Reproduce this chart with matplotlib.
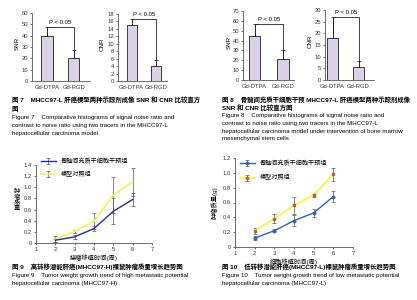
## Tracer comparison histograms and tumour growth curves (page scan recreation)
import matplotlib
matplotlib.use('Agg')
import matplotlib.pyplot as plt
import numpy as np

plt.rcParams['font.family'] = ['Liberation Sans', 'Noto Sans CJK SC']
plt.rcParams['axes.unicode_minus'] = False

W, H = 417, 300

## Data
tracers = ['Gd-DTPA', 'Gd-RGD']
snr7 = [40, 20]
snr7_err = [8, 7]
cnr7 = [15, 4]
cnr7_err = [1.7, 1.7]
snr8 = [45, 21]
snr8_err = [12, 9]
cnr8 = [18, 5.5]
cnr8_err = [9, 2.6]

weeks = [2, 3, 4, 5, 6]
# Figure 9 (MHCC97-H)
h_treat = [0.05, 0.11, 0.26, 0.57, 0.78]
h_treat_err = [0.03, 0.04, 0.05, 0.23, 0.11]
h_ctrl = [0.07, 0.21, 0.39, 0.86, 1.10]
h_ctrl_err = [0.05, 0.03, 0.14, 0.33, 0.25]
# Figure 10 (MHCC97-L)
l_treat = [0.12, 0.22, 0.355, 0.46, 0.68]
l_treat_err = [0.03, 0.02, 0.07, 0.05, 0.07]
l_ctrl = [0.22, 0.38, 0.56, 0.70, 0.98]
l_ctrl_err = [0.04, 0.06, 0.11, 0.02, 0.09]

legend_labels = ['骨髓间充质干细胞干预组', '模型对照组']

fig = plt.figure(figsize=(W / 100, H / 100), dpi=100)
fig.patch.set_facecolor('white')


def add_ax(l, t, r, b):
    return fig.add_axes([l / W, 1 - b / H, (r - l) / W, (b - t) / H])


def ftext(x, y, s, **kw):
    fig.text(x / W, 1 - y / H, s, va='center', **kw)


def style(ax, fs=4.2):
    for s in ['top', 'right']:
        ax.spines[s].set_visible(False)
    for s in ['left', 'bottom']:
        ax.spines[s].set_color('#555555')
        ax.spines[s].set_linewidth(0.6)
    ax.tick_params(labelsize=fs, length=1.5, width=0.5, pad=1.2, colors='#333333')


bar_fc = '#d9d1e8'
bar_ec = '#3a3a3a'


def bar_panel(ax, vals, errs, ylim, step, xlim, ylabel, lab_x):
    x = np.arange(len(vals))
    ax.bar(x, vals, width=0.42, color=bar_fc, edgecolor=bar_ec, linewidth=0.7)
    top = vals[0] + errs[0]
    # error bars (upper only)
    ax.errorbar(x, vals, yerr=[[0, 0], errs], fmt='none', ecolor='#333333',
                elinewidth=0.6, capsize=1.5, capthick=0.6)
    # significance bracket
    ax.plot([x[0], x[0], x[1], x[1]], [vals[0], top, top, vals[1]],
            color='#222222', lw=0.6)
    ax.text(0.5, top + (ylim[1] - ylim[0]) * 0.06, 'P < 0.05', ha='center',
            va='center', fontsize=4.3)
    ax.set_xlim(*xlim)
    ax.set_ylim(*ylim)
    ax.set_yticks(np.arange(ylim[0], ylim[1] + step / 2, step))
    ax.set_xticks(x)
    ax.set_xticklabels(tracers)
    style(ax)
    ax.tick_params(axis='x', length=0, pad=3)
    ax.set_ylabel(ylabel, fontsize=4.5)
    ax.yaxis.set_label_coords(lab_x, 0.55)


# Figure 7
ax = add_ax(32, 13, 90, 81)
bar_panel(ax, snr7, snr7_err, (0, 60), 10, (-0.55, 1.6), 'SNR', -0.22)
ax = add_ax(118, 14, 167, 81)
bar_panel(ax, cnr7, cnr7_err, (0, 18), 2, (-0.56, 1.45), 'CNR', -0.28)
# Figure 8
ax = add_ax(243, 11, 294, 80)
bar_panel(ax, snr8, snr8_err, (0, 70), 10, (-0.41, 1.4), 'SNR', -0.22)
ax = add_ax(325, 10, 374, 80)
bar_panel(ax, cnr8, cnr8_err, (0, 30), 5, (-0.3, 1.6), 'CNR', -0.25)

# Figure 9
ax = add_ax(36, 165, 152, 243)
ax.errorbar(weeks, h_ctrl, yerr=h_ctrl_err, color='#f2f25a', lw=1.2,
            ecolor='#555555', elinewidth=0.5, capsize=1.3, capthick=0.5,
            label=legend_labels[1])
ax.errorbar(weeks, h_treat, yerr=h_treat_err, color='#2a2a95', lw=1.0,
            ecolor='#555555', elinewidth=0.5, capsize=1.3, capthick=0.5,
            label=legend_labels[0])
ax.set_xlim(1, 7)
ax.set_ylim(0, 1.4)
ax.set_xticks(range(1, 8))
ax.set_yticks(np.arange(0, 1.41, 0.2))
ax.set_yticklabels(['0'] + ['%.1f' % v for v in np.arange(0.2, 1.41, 0.2)])
style(ax)
ax.set_xlabel('接瘤移植时间(周)', fontsize=4.5, labelpad=2)
h, l = ax.get_legend_handles_labels()
ax.legend(h[::-1], l[::-1], loc='upper left', bbox_to_anchor=(41 / W, 1 - 158 / H),
          bbox_transform=fig.transFigure, frameon=False, fontsize=4.4,
          handlelength=2.4, labelspacing=1.2, borderaxespad=0, borderpad=0)
ftext(17, 200, '肿\n瘤\n质\n量', fontsize=4.5, ha='center', linespacing=1.0)

# Figure 10
ax = add_ax(235, 158, 353, 247)
ax.errorbar(weeks, l_treat, yerr=l_treat_err, color='#3464a8', lw=1.0,
            marker='D', ms=1.6, mfc='#3464a8', mec='#3464a8',
            ecolor='#555555', elinewidth=0.5, capsize=1.3, capthick=0.5,
            label=legend_labels[0])
ax.errorbar(weeks, l_ctrl, yerr=l_ctrl_err, color='#f7f44a', lw=1.3,
            marker='s', ms=1.8, mfc='#b0603c', mec='#b0603c',
            ecolor='#555555', elinewidth=0.5, capsize=1.3, capthick=0.5,
            label=legend_labels[1])
ax.set_xlim(1, 7)
ax.set_ylim(0, 1.2)
ax.set_xticks(range(1, 8))
ax.set_yticks(np.arange(0, 1.21, 0.2))
ax.set_yticklabels(['0'] + ['%.1f' % v for v in np.arange(0.2, 1.21, 0.2)])
style(ax)
ax.set_xlabel('细胞移植时间(周)', fontsize=4.5, labelpad=2)
ax.set_ylabel('肿瘤质量(g)', fontsize=4.5)
ax.yaxis.set_label_coords(-0.15, 0.5)
ax.legend(loc='upper left', bbox_to_anchor=(240 / W, 1 - 160 / H),
          bbox_transform=fig.transFigure, frameon=False, fontsize=4.4,
          handlelength=2.4, labelspacing=1.4, borderaxespad=0, borderpad=0)

## Captions
cn = dict(fontsize=4.6, fontweight='bold', ha='left')
en = dict(fontsize=4.4, ha='left')
ftext(12, 100, '图 7    MHCC97-L 肝癌模型两种示踪剂成像 SNR 和 CNR 比较直方', **cn)
ftext(12, 109, '图', **cn)
ftext(12, 118, 'Figure 7    Comparative histograms of signal noise ratio and', **en)
ftext(12, 126, 'contrast to noise ratio using two tracers in the MHCC97-L', **en)
ftext(12, 134, 'hepatocellular carcinoma model', **en)

ftext(222, 100, '图 8    骨髓间充质干细胞干预 MHCC97-L 肝癌模型两种示踪剂成像', **cn)
ftext(222, 108, 'SNR 和 CNR 比较直方图', **cn)
ftext(222, 116, 'Figure 8    Comparative histograms of signal noise ratio and', **en)
ftext(222, 123.5, 'contrast to noise ratio using two tracers in the MHCC97-L', **en)
ftext(222, 131, 'hepatocellular carcinoma model under intervention of bone marrow', **en)
ftext(222, 138.5, 'mesenchymal stem cells', **en)

ftext(12, 267, '图 9    高转移潜能肝癌(MHCC97-H)裸鼠肿瘤质量增长趋势图', **cn)
ftext(12, 275, 'Figure 9    Tumor weight growth trend of high metastatic potential', **en)
ftext(12, 283, 'hepatocellular carcinoma (MHCC97-H)', **en)

ftext(222, 267, '图 10    低转移潜能肝癌(MHCC97-L)裸鼠肿瘤质量增长趋势图', **cn)
ftext(222, 275, 'Figure 10    Tumor weight growth trend of low metastatic potential', **en)
ftext(222, 283, 'hepatocellular carcinoma (MHCC97-L)', **en)

fig.savefig('out.png', dpi=100)
